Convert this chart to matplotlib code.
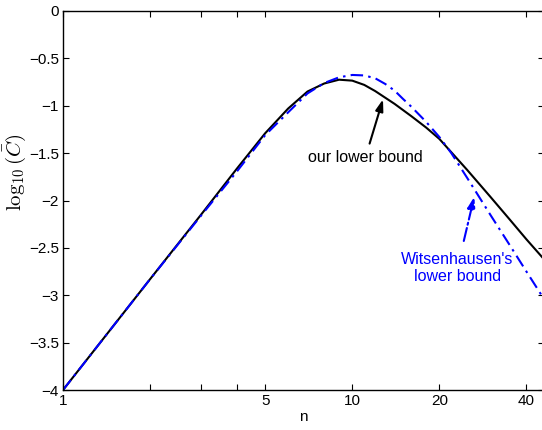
import matplotlib
matplotlib.use('Agg')
import matplotlib.pyplot as plt
import numpy as np

plt.rcParams['font.family'] = ['Liberation Sans', 'DejaVu Sans']
plt.rcParams['mathtext.fontset'] = 'cm'

# valori
n_ours = [1, 2, 3, 4, 5, 6, 7, 8, 9, 10, 11, 12, 14, 16, 18, 20, 25, 30, 35, 40, 46]
c_ours = [-4.00, -2.83, -2.15, -1.66, -1.29, -1.03, -0.85, -0.765, -0.725, -0.735,
          -0.78, -0.845, -0.98, -1.11, -1.23, -1.35, -1.68, -1.96, -2.20, -2.41, -2.62]

n_wit = [1, 2, 3, 4, 5, 6, 7, 8, 9, 10, 11, 12, 13, 14, 15, 16, 18, 20, 22, 25, 30, 35, 40, 46]
c_wit = [-4.00, -2.83, -2.16, -1.69, -1.31, -1.07, -0.87, -0.76, -0.70, -0.675, -0.68,
         -0.71, -0.77, -0.84, -0.93, -1.01, -1.17, -1.33, -1.50, -1.765, -2.15, -2.47,
         -2.75, -3.04]

xticks = [1, 2, 3, 4, 5, 10, 20, 40]
xticklabels = ['1', '', '', '', '5', '10', '20', '40']
yticks = np.arange(-4, 0.01, 0.5)

fig = plt.figure(figsize=(5.42, 4.30), dpi=100)
ax = fig.add_axes([63/542, 1 - 390/430, 481/542, 379/430])

ax.plot(n_ours, c_ours, color='black', lw=1.5)
ax.plot(n_wit, c_wit, color='blue', lw=1.5, linestyle=(0, (6, 2.5, 1.2, 2.5)))

ax.set_xscale('log')
ax.set_xlim(1, 46)
ax.set_ylim(-4, 0)
ax.set_xticks(xticks)
ax.set_xticklabels(xticklabels)
ax.xaxis.set_minor_locator(matplotlib.ticker.NullLocator())
ax.set_yticks(yticks)
ax.set_yticklabels([('%g' % v).replace('-', '\u2212') if v != 0 else '0' for v in yticks])
ax.tick_params(direction='in', top=True, right=True, length=4, width=0.8,
               labelsize=11, pad=3)
for s in ax.spines.values():
    s.set_linewidth(1.0)

ax.set_xlabel('n', fontsize=11, labelpad=1)
ax.set_ylabel(r'$\log_{10}(\bar{C})$', fontsize=15)
ax.yaxis.set_label_coords(-0.072, 0.575)

# annotazioni
ax.annotate('our lower bound', xy=(12.77, -0.932), xytext=(11.09, -1.55),
            ha='center', va='center', fontsize=11.5,
            arrowprops=dict(arrowstyle='-|>,head_length=0.6,head_width=0.2',
                            color='black', lw=1.5, shrinkA=3, shrinkB=0))
ax.annotate("Witsenhausen's\nlower bound", xy=(26.4, -1.96), xytext=(23.1, -2.71),
            ha='center', va='center', fontsize=11.5, color='blue', linespacing=1.15,
            arrowprops=dict(arrowstyle='-|>,head_length=0.6,head_width=0.2',
                            color='blue', lw=1.5, linestyle='-.', shrinkA=6, shrinkB=0))

fig.savefig('out.png', dpi=100)
